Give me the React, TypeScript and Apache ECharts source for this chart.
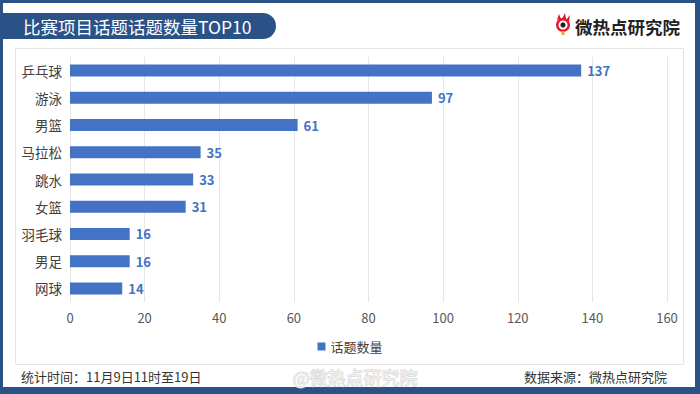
import React, { useEffect, useRef } from "react";
import * as echarts from "echarts";

const categories = ["乒乓球", "游泳", "男篮", "马拉松", "跳水", "女篮", "羽毛球", "男足", "网球"];
const topicCounts = [137, 97, 61, 35, 33, 31, 16, 16, 14];
const seriesName = "话题数量";
const titleText = "比赛项目话题话题数量TOP10";
const footerLeft = "统计时间：11月9日11时至19日";
const footerRight = "数据来源：微热点研究院";
const brandText = "微热点研究院";

const FONT = "'Noto Sans CJK SC', 'Noto Sans', sans-serif";
const BLUE = "#2b5287";
const BAR = "#4472c4";

export default function App() {
  const ref = useRef<HTMLDivElement>(null);
  useEffect(() => {
    const chart = echarts.init(ref.current!, null, { renderer: "svg" });
    chart.setOption({
      animation: false,
      backgroundColor: "#ffffff",
      textStyle: { fontFamily: FONT },
      grid: { left: 70, right: 33, top: 57, bottom: 92, containLabel: false },
      legend: {
        show: true,
        bottom: 36,
        left: "center",
        itemWidth: 8,
        itemHeight: 8,
        itemGap: 10,
        icon: "rect",
        textStyle: { fontSize: 13, color: "#404040", fontFamily: FONT },
        data: [seriesName],
      },
      xAxis: {
        type: "value",
        min: 0,
        max: 160,
        interval: 20,
        axisLine: { show: false },
        axisTick: { show: false },
        splitLine: { show: true, lineStyle: { color: "#e6e6e6", width: 1 } },
        axisLabel: { fontSize: 13, color: "#595959", margin: 9, fontFamily: FONT },
      },
      yAxis: {
        type: "category",
        data: categories,
        inverse: true,
        axisLine: { show: false },
        axisTick: { show: false },
        axisLabel: { fontSize: 13.5, color: "#404040", margin: 8, fontFamily: FONT },
      },
      series: [
        {
          name: seriesName,
          type: "bar",
          data: topicCounts,
          barCategoryGap: "56%",
          itemStyle: { color: BAR },
          label: {
            show: true,
            position: "right",
            distance: 6,
            color: BAR,
            fontWeight: "bold",
            fontSize: 13,
            fontFamily: FONT,
          },
        },
      ],
      graphic: [
        // outer frame
        { type: "rect", shape: { x: 0, y: 0, width: 700, height: 3 }, style: { fill: BLUE }, silent: true },
        { type: "rect", shape: { x: 0, y: 0, width: 3, height: 394 }, style: { fill: BLUE }, silent: true },
        { type: "rect", shape: { x: 695, y: 0, width: 5, height: 394 }, style: { fill: BLUE }, silent: true },
        { type: "rect", shape: { x: 0, y: 387, width: 700, height: 7 }, style: { fill: BLUE }, silent: true },
        // inner panel border
        {
          type: "rect",
          shape: { x: 15.5, y: 48.5, width: 668, height: 316 },
          style: { fill: "none", stroke: "#e4e4e4", lineWidth: 1 },
          silent: true,
          z: -1,
        },
        // title pill
        {
          type: "rect",
          shape: { x: 0, y: 13, width: 276, height: 26, r: [0, 13, 13, 0] },
          style: { fill: BLUE },
          silent: true,
        },
        {
          type: "text",
          x: 23,
          y: 26,
          style: {
            text: titleText,
            fill: "#ffffff",
            font: `17.5px ${FONT}`,
            verticalAlign: "middle",
          },
          silent: true,
        },
        // brand logo icon (approximation)
        {
          type: "group",
          x: 563,
          y: 25,
          silent: true,
          children: [
            { type: "circle", shape: { cx: 0, cy: 0, r: 7 }, style: { fill: "#e6162d" } },
            { type: "circle", shape: { cx: 0, cy: 0, r: 4.5 }, style: { fill: "#ffffff" } },
            { type: "circle", shape: { cx: 0, cy: 0, r: 2.6 }, style: { fill: "#222222" } },
            { type: "polygon", shape: { points: [[-6, -5], [-4, -11], [-2, -6]] }, style: { fill: "#e6162d" } },
            { type: "polygon", shape: { points: [[-1, -6], [2, -12], [3, -6]] }, style: { fill: "#e6162d" } },
            { type: "polygon", shape: { points: [[3, -5], [7, -10], [6, -3]] }, style: { fill: "#e6162d" } },
            { type: "rect", shape: { x: -1.5, y: 6, width: 3, height: 4 }, style: { fill: "#f5a623" } },
          ],
        },
        {
          type: "text",
          x: 575,
          y: 26,
          style: {
            text: brandText,
            fill: "#222222",
            font: `bold 17.5px ${FONT}`,
            verticalAlign: "middle",
          },
          silent: true,
        },
        // footer
        {
          type: "text",
          x: 21,
          y: 376,
          style: { text: footerLeft, fill: "#333333", font: `13px ${FONT}`, verticalAlign: "middle" },
          silent: true,
        },
        {
          type: "text",
          x: 667,
          y: 376,
          style: {
            text: footerRight,
            fill: "#333333",
            font: `13px ${FONT}`,
            align: "right",
            verticalAlign: "middle",
          },
          silent: true,
        },
        // watermark
        {
          type: "text",
          x: 355,
          y: 377,
          style: {
            text: "@" + brandText,
            fill: "rgba(255,255,255,0.6)",
            stroke: "#d4d4d4",
            lineWidth: 1,
            font: `18px ${FONT}`,
            align: "center",
            verticalAlign: "middle",
          },
          silent: true,
        },
      ],
    });
    return () => chart.dispose();
  }, []);
  return (
    <div
      ref={ref}
      style={{ position: "fixed", left: 0, top: 0, width: 700, height: 394 }}
    />
  );
}
